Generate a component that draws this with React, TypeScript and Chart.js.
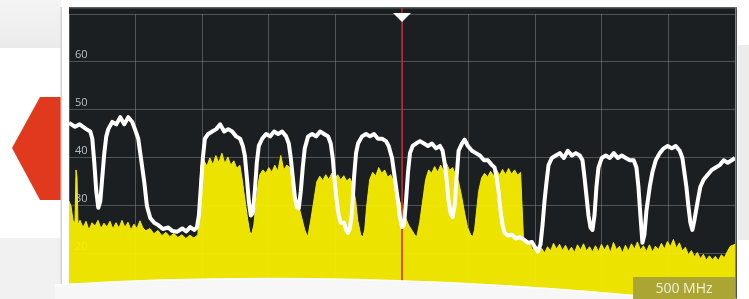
import { useEffect, useRef } from 'react';
import { Chart, registerables } from 'chart.js';

Chart.register(...registerables);

// Max-hold trace (white): frequency (MHz offset in span) and level (dB)
const whiteFreq = [
  0, 9, 16, 26, 32, 35, 38, 41, 44, 47,
  50, 53, 56, 59, 65, 71, 77, 83, 89, 95,
  99, 104, 108, 113, 117, 122, 128, 134, 141, 149,
  155, 162, 170, 176, 182, 188, 192, 195, 198, 201,
  204, 209, 215, 221, 227, 233, 239, 245, 251, 257,
  261, 264, 267, 270, 273, 276, 279, 282, 285, 290,
  296, 302, 308, 314, 320, 326, 330, 333, 336, 339,
  342, 345, 348, 351, 354, 359, 365, 371, 377, 383,
  389, 393, 396, 399, 402, 405, 408, 413, 416, 419,
  422, 425, 428, 431, 434, 440, 446, 452, 458, 464,
  470, 476, 480, 485, 489, 494, 497, 500, 503, 506,
  509, 512, 516, 521, 527, 533, 539, 545, 551, 557,
  561, 564, 567, 570, 573, 576, 579, 582, 585, 590,
  594, 599, 605, 611, 617, 623, 629, 635, 639, 642,
  645, 648, 651, 654, 659, 665, 671, 677, 683, 689,
  695, 699, 704, 708, 711, 714, 717, 720, 725, 731,
  737, 743, 749, 755, 761, 767, 771, 774, 777, 780,
  783, 786, 789, 792, 795, 800, 806, 812, 818, 824,
  830, 836, 842, 848, 852, 855, 858, 861, 864, 867,
  872, 876, 881, 887, 893, 899, 905, 911, 917, 921,
  924, 927, 930, 933, 936, 939, 944, 948, 953, 959,
  965, 971, 977, 983, 989, 995, 1000,
];
const whiteLevel = [
  47.3, 46.5, 47, 46, 45.5, 44, 39, 33, 29.6, 31,
  36, 41, 44.5, 46, 47.5, 47, 48.5, 47, 48.5, 47.5,
  46, 44, 40, 35, 30, 27.5, 26.5, 26, 25.2, 25.5,
  24.8, 24.6, 25.3, 24.7, 25.6, 25, 25.5, 28, 34, 40,
  44, 45, 45.5, 46, 47, 45.5, 46, 45.5, 44.5, 44,
  42.5, 40.5, 36, 31, 28, 28.5, 33, 39, 42.5, 44,
  45, 44.5, 45.5, 45, 45.5, 44.5, 43, 40, 36, 32,
  29.8, 29.5, 33, 38, 42, 44.5, 45, 44.5, 45.5, 45,
  44.5, 43, 40, 35, 31, 28, 26.5, 26.5, 25, 24.4,
  25.5, 29, 36, 41, 43, 44.5, 45, 44.5, 45, 44,
  44, 43.5, 42.5, 40, 36, 31, 27.5, 25.6, 26, 31,
  37, 41, 42.5, 43, 43.5, 43, 42.5, 43, 42, 42.5,
  41.5, 39, 35.5, 31, 28.5, 27.7, 30, 36, 41.5, 43,
  43.8, 42.5, 41.5, 41, 40.5, 39.5, 39.5, 38.5, 38, 36,
  33, 29, 26, 24.4, 23.8, 24, 23.2, 23.5, 23, 22.3,
  22.5, 21.5, 20.5, 22, 26, 31, 35, 38.5, 40, 40.5,
  41, 40, 41.5, 40.5, 41, 40.5, 39.5, 36, 32, 28,
  25.5, 25, 28, 34, 38, 40, 40.5, 40, 41, 40,
  40.5, 40, 39.5, 39.5, 38, 34, 28, 22.3, 24, 29,
  34, 37, 39.5, 41, 42, 42.5, 42, 42.5, 41.5, 40,
  37, 34, 30, 26.5, 25, 27, 31, 34, 35.5, 36.5,
  37.5, 38, 38.5, 39.5, 39, 39.5, 40,
];

// Live trace (yellow, filled)
const liveFreq = [
  0, 3, 6, 9, 10.5, 12, 13.5, 16.5, 21, 25.5,
  30, 34.5, 39, 43.5, 48, 52.5, 57, 61.5, 66, 70.5,
  75, 79.5, 84, 88.5, 93, 97.5, 102, 106.5, 111, 115.5,
  121.5, 127.5, 133.5, 139.5, 145.5, 151.5, 157.5, 163.5, 169.5, 175.5,
  181.5, 187.5, 193.5, 195.75, 198, 202.5, 207, 211.5, 216, 220.5,
  225, 229.5, 234, 238.5, 243, 247.5, 252, 256.5, 259.5, 262.5,
  265.5, 268.5, 271.5, 274.5, 277.5, 280.5, 283.5, 286.5, 291, 295.5,
  300, 304.5, 309, 313.5, 318, 322.5, 327, 331.5, 336, 340.5,
  345, 349.5, 354, 358.5, 363, 367.5, 372, 376.5, 381, 385.5,
  390, 394.5, 399, 403.5, 408, 412.5, 417, 421.5, 426, 430.5,
  433.5, 438, 441, 444, 447, 451.5, 456, 460.5, 465, 469.5,
  474, 478.5, 483, 487.5, 492, 496.5, 501, 505.5, 510, 514.5,
  519, 522, 526.5, 531, 535.5, 540, 544.5, 549, 553.5, 558,
  562.5, 567, 571.5, 576, 580.5, 585, 589.5, 594, 598.5, 603,
  606, 609, 612, 615, 619.5, 624, 628.5, 633, 637.5, 642,
  646.5, 651, 655.5, 660, 664.5, 669, 673.5, 678, 680.25, 682.5,
  687, 691.5, 696, 700.5, 705, 709.5, 714, 718.5, 723, 727.5,
  732, 736.5, 741, 745.5, 750, 754.5, 759, 763.5, 768, 772.5,
  777, 781.5, 786, 790.5, 795, 799.5, 804, 808.5, 813, 817.5,
  822, 826.5, 831, 835.5, 840, 844.5, 849, 853.5, 858, 862.5,
  867, 871.5, 876, 880.5, 885, 889.5, 894, 898.5, 903, 907.5,
  912, 916.5, 921, 925.5, 930, 934.5, 939, 943.5, 948, 952.5,
  957, 961.5, 966, 970.5, 975, 979.5, 984, 988.5, 993, 1000,
];
const liveLevel = [
  31, 30, 27, 26.5, 37.5, 36, 26, 27, 25.5, 26.8,
  25, 26.5, 25.8, 27, 25.3, 26.4, 25.6, 26.8, 25.2, 26.5,
  25.4, 27, 25.5, 26.6, 25, 26.2, 25.3, 26.9, 25.4, 24.8,
  25.3, 24.2, 24.9, 23.8, 24.5, 23.6, 24.3, 23.4, 24, 23.2,
  23.9, 23.3, 24, 31, 38.5, 39.5, 38.3, 40, 38.6, 40.5,
  39, 41, 38.8, 40.2, 38.5, 39.4, 37.8, 38.5, 36, 33,
  30, 27, 24.5, 24.2, 26, 30, 34, 36.5, 37.5, 36.8,
  38, 37, 38.5, 37.2, 40.5, 37.5, 38.5, 38, 35, 32,
  30, 27.5, 25, 23.5, 27, 31, 35, 36.2, 35.3, 36.5,
  35.5, 36.8, 35.6, 36.5, 35.4, 36.3, 35.2, 35.8, 34.5, 31,
  27, 24, 23.5, 25, 30, 35.5, 37, 36.2, 38, 36.8,
  37.5, 36, 36.5, 35, 33, 31, 29, 27.5, 26, 25,
  24, 23.5, 26.5, 31, 35.5, 37.5, 36.8, 38.2, 37, 38.5,
  37.3, 38.8, 37.4, 38, 36.5, 35, 32, 28.5, 25.5, 24,
  23.6, 25, 29, 33, 35.8, 36.8, 36, 37.2, 36.3, 37.5,
  36.4, 37.6, 36.5, 37.8, 36.6, 37.5, 36.4, 37, 30, 23,
  21.8, 22.5, 20.8, 21.6, 20, 21.2, 20.2, 21.5, 20.6, 22.2,
  21, 22, 20.7, 21.8, 20.5, 21.4, 20.3, 21.9, 20.8, 22.1,
  20.6, 21.5, 20.4, 21.7, 20.5, 22, 20.8, 21.9, 20.3, 22.4,
  20.9, 21.6, 20.2, 21.8, 20.6, 22.1, 21, 22.5, 20.8, 21.7,
  20.5, 21.9, 20.4, 21.6, 20.9, 22.2, 21, 22.6, 21.5, 23,
  21.2, 22.3, 20.6, 21.4, 19.8, 20.7, 19.4, 20.3, 19, 19.9,
  18.7, 19.6, 18.8, 19.5, 18.6, 19.8, 19.2, 20.5, 21.6, 22,
];

const yLabelValues = [20, 30, 40, 50, 60];
const levelMin = 10.6;
const levelMax = 70;
const freqMin = 0;
const freqMax = 1000;
const markerFreq = 500;
const spanLabel = '500 MHz';

export default function App() {
  const ref = useRef<HTMLCanvasElement | null>(null);

  useEffect(() => {
    const canvas = ref.current;
    if (!canvas) return;

    const deco = {
      id: 'deco',
      beforeDraw(chart: any) {
        const { ctx, chartArea: a, width, height } = chart;
        ctx.save();
        ctx.fillStyle = '#ffffff';
        ctx.fillRect(0, 0, width, height);
        const g = ctx.createLinearGradient(0, 0, 0, 48);
        g.addColorStop(0, '#f4f4f4');
        g.addColorStop(1, '#ebebeb');
        ctx.fillStyle = g;
        ctx.fillRect(0, 0, 61, 48);
        ctx.fillStyle = '#f1f1f1';
        ctx.fillRect(0, 238, 61, height - 238);
        ctx.fillStyle = '#ececec';
        ctx.fillRect(a.right + 3, 45, width - a.right - 3, 195);
        // red arrow
        ctx.fillStyle = '#e0391e';
        ctx.beginPath();
        ctx.moveTo(40, 97);
        ctx.lineTo(61, 97);
        ctx.lineTo(61, 200);
        ctx.lineTo(40, 200);
        ctx.lineTo(12, 148);
        ctx.closePath();
        ctx.fill();
        // panel border
        ctx.fillStyle = '#d2d4d4';
        ctx.fillRect(60.5, 7, 1.5, 285);
        // dark panel
        ctx.fillStyle = '#1c1f22';
        ctx.fillRect(a.left, 7, a.right - a.left + 2, height - 7);
        ctx.fillStyle = '#56625e';
        ctx.fillRect(a.left, 7, a.right - a.left + 2, 1.5);
        ctx.fillStyle = '#7c8282';
        ctx.fillRect(a.right, 7, 1.5, height - 7);
        ctx.restore();
      },
      afterDatasetDraw(chart: any, args: any) {
        if (args.index !== 1) return;
        const { ctx, chartArea: a } = chart;
        const x = chart.scales.x.getPixelForValue(markerFreq);
        ctx.save();
        ctx.strokeStyle = 'rgba(205,35,35,0.75)';
        ctx.lineWidth = 2;
        ctx.beginPath();
        ctx.moveTo(x, a.top - 6);
        ctx.lineTo(x, a.bottom);
        ctx.stroke();
        ctx.restore();
      },
      afterDraw(chart: any) {
        const { ctx, chartArea: a, width, height } = chart;
        const x = chart.scales.x.getPixelForValue(markerFreq);
        ctx.save();
        // marker triangle
        ctx.fillStyle = '#ffffff';
        ctx.beginPath();
        ctx.moveTo(x - 9, a.top - 1);
        ctx.lineTo(x + 9, a.top - 1);
        ctx.lineTo(x, a.top + 8);
        ctx.closePath();
        ctx.fill();
        // small hidden softkey
        ctx.fillStyle = '#8d893a';
        ctx.fillRect(375, 284, 52, 10);
        // white curved sheet at the bottom
        ctx.fillStyle = '#f7f7f7';
        ctx.beginPath();
        ctx.moveTo(55, 285);
        ctx.quadraticCurveTo(330, 268, 640, 296);
        ctx.lineTo(width, height);
        ctx.lineTo(55, height);
        ctx.closePath();
        ctx.fill();
        ctx.strokeStyle = '#ffffff';
        ctx.lineWidth = 1.5;
        ctx.beginPath();
        ctx.moveTo(55, 285);
        ctx.quadraticCurveTo(330, 268, 640, 296);
        ctx.stroke();
        // span label box
        ctx.fillStyle = '#aba534';
        ctx.fillRect(633, 277, a.right - 633, height - 277);
        ctx.fillStyle = '#f3f1e0';
        ctx.font = '14px "Open Sans", sans-serif';
        ctx.textAlign = 'center';
        ctx.textBaseline = 'middle';
        ctx.fillText(spanLabel, (633 + a.right) / 2, 289);
        ctx.restore();
      },
    };

    const chart = new Chart(canvas, {
      type: 'line',
      data: {
        datasets: [
          {
            label: 'Max hold',
            data: whiteFreq.map((f, i) => ({ x: f, y: whiteLevel[i] })),
            borderColor: '#ffffff',
            borderWidth: 4,
            pointRadius: 0,
            fill: false,
            tension: 0,
            borderJoinStyle: 'round',
          },
          {
            label: 'Live',
            data: liveFreq.map((f, i) => ({ x: f, y: liveLevel[i] })),
            borderColor: 'rgba(248,238,0,0.95)',
            backgroundColor: 'rgba(248,238,0,0.95)',
            borderWidth: 1,
            pointRadius: 0,
            fill: 'start',
            tension: 0,
          },
        ],
      },
      options: {
        animation: false,
        responsive: false,
        maintainAspectRatio: false,
        events: [],
        layout: { padding: { left: 69, right: 14, top: 14, bottom: 0 } },
        plugins: {
          legend: { display: false },
          tooltip: { enabled: false },
          title: { display: false },
        },
        scales: {
          x: {
            type: 'linear',
            min: freqMin,
            max: freqMax,
            ticks: { display: false, stepSize: 100 },
            grid: { color: 'rgba(140,148,150,0.45)', lineWidth: 1, drawTicks: false },
            border: { display: false },
            afterFit: (s: any) => {
              s.height = 0;
              s.paddingLeft = 0;
              s.paddingRight = 0;
            },
          },
          y: {
            type: 'linear',
            min: levelMin,
            max: levelMax,
            ticks: {
              stepSize: 10,
              includeBounds: false,
              mirror: true,
              padding: 6,
              labelOffset: -7,
              color: 'rgba(205,205,205,0.9)',
              font: { family: 'Open Sans', size: 11 },
              callback: (v: any) => (yLabelValues.includes(Number(v)) ? String(v) : ''),
            },
            grid: { color: 'rgba(140,148,150,0.45)', lineWidth: 1, drawTicks: false },
            border: { display: false },
            afterFit: (s: any) => {
              s.width = 0;
              s.paddingTop = 0;
              s.paddingBottom = 0;
            },
          },
        },
      },
      plugins: [deco],
    } as any);

    return () => chart.destroy();
  }, []);

  return (
    <div style={{ position: 'fixed', left: 0, top: 0, width: 749, height: 299, background: '#ffffff' }}>
      <canvas ref={ref} width={749} height={299} style={{ display: 'block', width: 749, height: 299 }} />
    </div>
  );
}
